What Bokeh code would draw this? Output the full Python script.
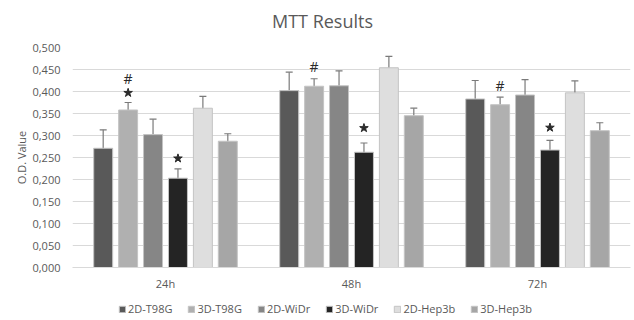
from bokeh.plotting import figure
from bokeh.layouts import column
from bokeh.models import (ColumnDataSource, FactorRange, Whisker, Legend, LegendItem, Label,
                          CustomJSTickFormatter, SingleIntervalTicker, TeeHead, Range1d)
from bokeh.transform import dodge
from bokeh.core.properties import value
from bokeh.embed import file_html
from bokeh.resources import INLINE

title_text = "MTT Results"
times = ["24h", "48h", "72h"]
series = ["2D-T98G", "3D-T98G", "2D-WiDr", "3D-WiDr", "2D-Hep3b", "3D-Hep3b"]

t98g_2d = [0.271, 0.402, 0.383]
t98g_3d = [0.358, 0.412, 0.370]
widr_2d = [0.302, 0.413, 0.392]
widr_3d = [0.203, 0.262, 0.267]
hep3b_2d = [0.362, 0.454, 0.397]
hep3b_3d = [0.287, 0.345, 0.311]

err_t98g_2d = [0.042, 0.042, 0.042]
err_t98g_3d = [0.017, 0.017, 0.017]
err_widr_2d = [0.035, 0.034, 0.035]
err_widr_3d = [0.021, 0.021, 0.022]
err_hep3b_2d = [0.027, 0.026, 0.027]
err_hep3b_3d = [0.017, 0.017, 0.018]

values = [t98g_2d, t98g_3d, widr_2d, widr_3d, hep3b_2d, hep3b_3d]
errors = [err_t98g_2d, err_t98g_3d, err_widr_2d, err_widr_3d, err_hep3b_2d, err_hep3b_3d]
colors = ["#595959", "#b0b0b0", "#868686", "#242424", "#dedede", "#a6a6a6"]

# significance marks
star_times = ["24h", "24h", "48h", "72h"]
star_series = ["3D-T98G", "3D-WiDr", "3D-WiDr", "3D-WiDr"]
star_y = [0.397, 0.248, 0.317, 0.318]
hash_times = ["24h", "48h", "72h"]
hash_series = ["3D-T98G", "3D-T98G", "3D-T98G"]
hash_y = [0.429, 0.457, 0.414]

pitch = 0.134
bar_w = 0.102
offsets = [(i - 2.5) * pitch for i in range(len(series))]

font = "Open Sans"
txt = "#595959"

# title strip
tf = figure(width=634, height=36, x_range=Range1d(0, 1), y_range=Range1d(0, 1),
            output_backend="svg", toolbar_location=None, min_border=0)
tf.outline_line_color = None
tf.axis.visible = False
tf.grid.visible = False
tf.add_layout(Label(x=0.448, y=0.44, text=title_text, text_align="center", text_baseline="middle",
                    text_font=font, text_font_size="18px", text_color=txt))

p = figure(width=634, height=264, x_range=FactorRange(factors=times, range_padding=0),
           y_range=Range1d(0, 0.5), output_backend="svg", toolbar_location=None,
           min_border_left=72, min_border_right=4, min_border_top=11, min_border_bottom=33)
p.outline_line_color = None

renderers = []
for i, name in enumerate(series):
    src = ColumnDataSource(dict(t=times, v=values[i],
                                upper=[a + b for a, b in zip(values[i], errors[i])],
                                lower=[a - b for a, b in zip(values[i], errors[i])]))
    r = p.vbar(x=dodge("t", offsets[i], range=p.x_range), top="v", width=bar_w, source=src,
               fill_color=colors[i], line_color="#c4c4c4", line_width=1)
    renderers.append(r)
    w = Whisker(source=src, base=dodge("t", offsets[i], range=p.x_range), upper="upper", lower="lower",
                line_color="#7a7a7a", line_width=1.2,
                upper_head=TeeHead(size=7, line_color="#7a7a7a", line_width=1.2),
                lower_head=TeeHead(size=7, line_color="#7a7a7a", line_width=1.2))
    p.add_layout(w)

for name in series:
    i = series.index(name)
    sx = [t for t, s in zip(star_times, star_series) if s == name]
    sy = [y for y, s in zip(star_y, star_series) if s == name]
    if sx:
        p.scatter(x=dodge("x", offsets[i], range=p.x_range), y="y", source=ColumnDataSource(dict(x=sx, y=sy)),
                  marker="star", size=9, fill_color="#2a2a2a", line_color="#2a2a2a")
    hx = [t for t, s in zip(hash_times, hash_series) if s == name]
    hy = [y for y, s in zip(hash_y, hash_series) if s == name]
    if hx:
        p.text(x=dodge("x", offsets[i], range=p.x_range), y="y", text=value("#"),
               source=ColumnDataSource(dict(x=hx, y=hy)),
               text_font=value(font), text_font_size="14px",
               text_color="#2a2a2a", text_align="center", text_baseline="middle")

p.yaxis.ticker = SingleIntervalTicker(interval=0.05)
p.yaxis.formatter = CustomJSTickFormatter(code="return tick.toFixed(3).replace('.', ',');")
p.yaxis.axis_label = "O.D. Value"
p.yaxis.axis_label_text_font = font
p.yaxis.axis_label_text_font_size = "11px"
p.yaxis.axis_label_text_font_style = "normal"
p.yaxis.axis_label_text_color = txt
p.yaxis.axis_label_standoff = 0
p.yaxis.axis_line_color = None
p.yaxis.major_tick_line_color = None
p.yaxis.minor_tick_line_color = None
p.yaxis.major_label_standoff = 6

p.xaxis.axis_line_color = "#d9d9d9"
p.xaxis.major_tick_line_color = None
p.xaxis.minor_tick_line_color = None
p.xaxis.major_label_standoff = 2

for ax in (p.xaxis, p.yaxis):
    ax.major_label_text_font = font
    ax.major_label_text_font_size = "11px"
    ax.major_label_text_color = txt

p.xgrid.grid_line_color = None
p.ygrid.grid_line_color = "#d9d9d9"
p.ygrid.grid_line_width = 1

# legend strip (swatch renderers sit outside the visible range; only the legend shows)
lg = figure(width=634, height=19, x_range=Range1d(0, 1), y_range=Range1d(0, 1),
            output_backend="svg", toolbar_location=None, min_border=0)
lg.outline_line_color = None
lg.axis.visible = False
lg.grid.visible = False
swatch_src = ColumnDataSource(dict(x=[-10.0], top=[-10.0], bottom=[-11.0]))
dummies = [lg.vbar(x="x", top="top", bottom="bottom", width=0.1, source=swatch_src,
                   fill_color=c, line_color="#c4c4c4") for c in colors]
legend = Legend(items=[LegendItem(label=s, renderers=[r]) for s, r in zip(series, dummies)],
                orientation="horizontal", location=(46, 3),
                label_text_font=font, label_text_font_size="11px", label_text_color=txt,
                glyph_width=8, glyph_height=8, label_standoff=2, spacing=15,
                padding=0, margin=0, label_height=12, border_line_color=None,
                background_fill_alpha=0)
lg.add_layout(legend, "center")

layout = column(tf, p, lg, spacing=0)
open("out.html", "w").write(file_html(layout, INLINE))
